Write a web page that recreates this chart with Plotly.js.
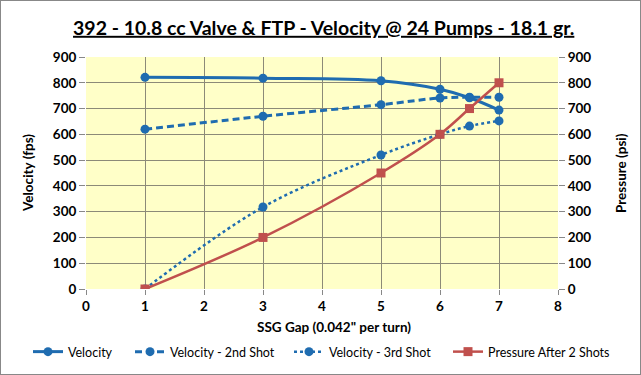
<!DOCTYPE html>
<html><head><meta charset="utf-8">
<script src="https://cdn.plot.ly/plotly-3.0.1.min.js"></script>
<style>html,body{margin:0;padding:0;background:#fff}#chart{width:641px;height:375px;box-sizing:border-box;border:1px solid #888}</style>
</head><body><div id="chart"></div>
<script>
const xGap = [1, 3, 5, 6, 6.5, 7];
const velocity = [821, 818, 808, 775, 742, 694];
const velocity2 = [620, 670, 715, 741, 744, 744];
const velocity3 = [0, 318, 520, 600, 632, 652];
const pressure = [0, 200, 450, 600, 700, 800];
const seriesNames = ['Velocity', 'Velocity - 2nd Shot', 'Velocity - 3rd Shot', 'Pressure After 2 Shots'];

const blue = '#1f6cb0';
const red = '#c0504d';
const font = 'Lato, "Open Sans", sans-serif';

const W = 639, H = 373, M = {l: 85, r: 82, t: 56, b: 85};
const pw = W - M.l - M.r, ph = H - M.t - M.b;
const px = p => (p - 1 - M.l) / pw;
const py = p => 1 - (p - 1 - M.t) / ph;
const cx = p => (p - 1) / W;
const cy = p => 1 - (p - 1) / H;

const traces = [
  {x: xGap, y: velocity, name: seriesNames[0], legend: 'legend', mode: 'lines+markers', line: {color: blue, width: 3, shape: 'spline'}, marker: {color: blue, size: 9, symbol: 'circle'}},
  {x: xGap, y: velocity2, name: seriesNames[1], legend: 'legend2', mode: 'lines+markers', line: {color: blue, width: 3, dash: '7px,4px', shape: 'spline'}, marker: {color: blue, size: 9}},
  {x: xGap, y: velocity3, name: seriesNames[2], legend: 'legend3', mode: 'lines+markers', line: {color: blue, width: 2.5, dash: 'dot', shape: 'spline'}, marker: {color: blue, size: 9}},
  {x: xGap, y: pressure, name: seriesNames[3], legend: 'legend4', yaxis: 'y2', mode: 'lines+markers', line: {color: red, width: 2.5, shape: 'spline'}, marker: {color: red, size: 9, symbol: 'square'}}
];

const legBase = {orientation: 'h', xref: 'container', yref: 'container', xanchor: 'left', yanchor: 'middle', y: cy(352), font: {family: font, size: 12.5, color: '#000'}, itemwidth: 30, bgcolor: 'rgba(0,0,0,0)'};

const axTitleFont = {family: font, size: 13.5, color: '#000'};

const layout = {
  width: W, height: H,
  margin: M,
  paper_bgcolor: '#ffffff',
  plot_bgcolor: '#ffffc8',
  font: {family: font, size: 13, color: '#000'},
  title: {text: '<b><u>392 - 10.8 cc Valve &amp; FTP - Velocity @ 24 Pumps - 18.1 gr.</u></b>', x: 0.505, xanchor: 'center', y: cy(28), yanchor: 'middle', font: {family: font, size: 19.5, color: '#000'}},
  xaxis: {range: [0, 8], dtick: 1, showgrid: true, gridcolor: '#8c8a78', gridwidth: 1, zeroline: false, showline: false, ticks: 'outside', ticklen: 5, tickcolor: '#888', tickfont: {family: font, size: 13.5, color: '#000', weight: 'bold'}},
  yaxis: {range: [0, 900], dtick: 100, showgrid: true, gridcolor: '#8c8a78', gridwidth: 1, zeroline: false, showline: false, ticks: 'outside', ticklen: 6, tickcolor: '#888', tickfont: {family: font, size: 13.5, weight: 'bold'}},
  yaxis2: {range: [0, 900], dtick: 100, overlaying: 'y', side: 'right', showgrid: false, zeroline: false, showline: false, ticks: 'outside', ticklen: 6, tickcolor: '#888', tickfont: {family: font, size: 13.5, weight: 'bold'}},
  showlegend: true,
  legend: Object.assign({}, legBase, {x: cx(28)}),
  legend2: Object.assign({}, legBase, {x: cx(130)}),
  legend3: Object.assign({}, legBase, {x: cx(289)}),
  legend4: Object.assign({}, legBase, {x: cx(448)}),
  annotations: [
    {text: '<b>SSG Gap (0.042" per turn)</b>', xref: 'paper', yref: 'paper', x: px(334), y: py(327), xanchor: 'center', yanchor: 'middle', showarrow: false, font: axTitleFont},
    {text: '<b>Velocity (fps)</b>', xref: 'paper', yref: 'paper', x: px(28), y: py(173), xanchor: 'center', yanchor: 'middle', textangle: -90, showarrow: false, font: axTitleFont},
    {text: '<b>Pressure (psi)</b>', xref: 'paper', yref: 'paper', x: px(621), y: py(173), xanchor: 'center', yanchor: 'middle', textangle: -90, showarrow: false, font: axTitleFont}
  ]
};

Plotly.newPlot('chart', traces, layout, {displayModeBar: false, staticPlot: true});
</script></body></html>
